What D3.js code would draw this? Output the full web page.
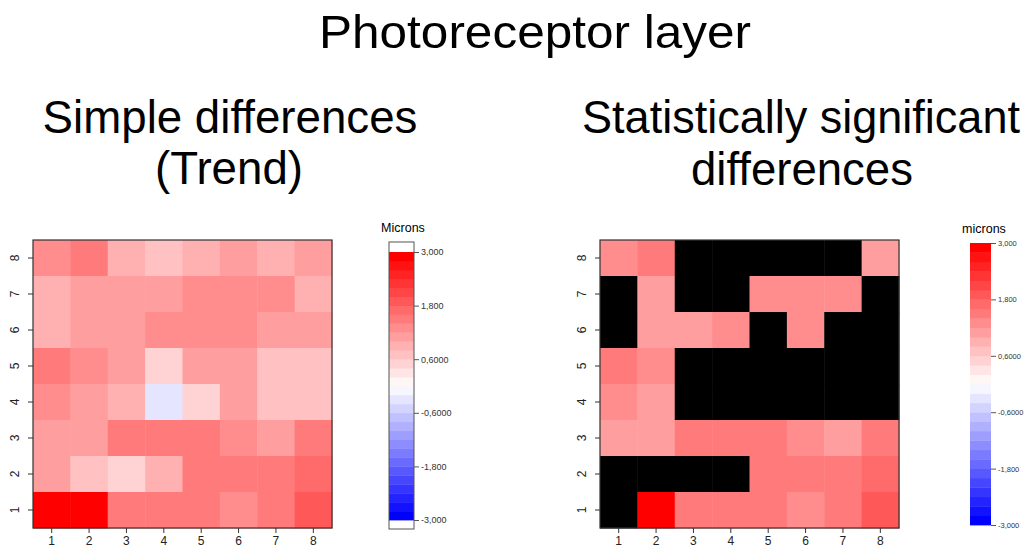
<!DOCTYPE html>
<html>
<head>
<meta charset="utf-8">
<script src="https://cdn.jsdelivr.net/npm/d3@7"></script>
<style>
    body { margin: 0; background: #fff; }
    svg { display: block; font-family: "Liberation Sans", Arial, Helvetica, sans-serif; }
</style>
</head>
<body>
<div id="plot"></div>
<script>
// data: rows listed from y = 8 (top) down to y = 1
var colLabels = [1, 2, 3, 4, 5, 6, 7, 8];
var rowLabels = [8, 7, 6, 5, 4, 3, 2, 1];

// simple differences (microns)
var trend = [
    [1.3, 1.5, 0.9, 0.7, 0.9, 1.1, 0.9, 1.1],
    [0.9, 1.1, 1.1, 1.0, 1.3, 1.3, 1.3, 0.9],
    [0.9, 1.1, 1.1, 1.3, 1.3, 1.3, 1.1, 1.1],
    [1.5, 1.3, 1.1, 0.5, 1.0, 1.1, 0.7, 0.7],
    [1.3, 1.1, 0.9, -0.3, 0.5, 1.1, 0.7, 0.7],
    [1.1, 1.1, 1.5, 1.5, 1.5, 1.3, 1.1, 1.5],
    [1.1, 0.7, 0.5, 0.9, 1.5, 1.5, 1.5, 1.7],
    [2.9, 2.9, 1.5, 1.5, 1.5, 1.3, 1.5, 1.9]
];

// 1 = statistically significant, 0 = not (drawn black)
var significant = [
    [1, 1, 0, 0, 0, 0, 0, 1],
    [0, 1, 0, 0, 1, 1, 1, 0],
    [0, 1, 1, 1, 0, 1, 0, 0],
    [1, 1, 0, 0, 0, 0, 0, 0],
    [1, 1, 0, 0, 0, 0, 0, 0],
    [1, 1, 1, 1, 1, 1, 1, 1],
    [0, 0, 0, 0, 1, 1, 1, 1],
    [0, 1, 1, 1, 1, 1, 1, 1]
];

var legendTicks = [3, 1.8, 0.6, -0.6, -1.8, -3];
var legendTickLabels = ["3,000", "1,800", "0,6000", "-0,6000", "-1,800", "-3,000"];

var nBands = 30;
var zMin = -3, zMax = 3;

// blue - white - red palette, 30 steps (like colorRampPalette)
var ramp = d3.scaleLinear().domain([0, 0.5, 1]).range(["#0000ff", "#ffffff", "#ff0000"]);
var palette = d3.range(nBands).map(i => ramp(i / (nBands - 1)));
var colorOf = function (v) {
    var k = Math.floor((v - zMin) / (zMax - zMin) * nBands);
    k = Math.max(0, Math.min(nBands - 1, k));
    return palette[k];
};

var svgWidth = 1030, svgHeight = 549;
var svg = d3.select("#plot").append("svg")
    .attr("width", svgWidth)
    .attr("height", svgHeight);

// titles (squeezed horizontally, like the original)
function title(txt, cx, y, w, size) {
    var t = svg.append("text")
        .attr("text-anchor", "middle")
        .attr("font-size", size)
        .attr("fill", "#000")
        .text(txt);
    var natural = t.node().getComputedTextLength();
    t.attr("transform", `translate(${cx}, ${y}) scale(${w / natural}, 1)`);
}
title("Photoreceptor layer", 535, 48, 432, 47);
title("Simple differences", 230, 133, 375, 47);
title("(Trend)", 229, 184, 148, 47);
title("Statistically significant", 801, 133, 438, 47);
title("differences", 802, 185, 222, 47);

// heatmap panel
function heatmap(x0, x1, y0, y1, useMask) {
    var x = d3.scaleBand().domain(colLabels).range([x0, x1]);
    var y = d3.scaleBand().domain(rowLabels).range([y0, y1]);
    var g = svg.append("g");

    var cells = [];
    trend.forEach((row, r) => row.forEach((v, c) => {
        cells.push({ row: rowLabels[r], col: colLabels[c], v: v, sig: significant[r][c] });
    }));

    g.selectAll("rect.cell")
        .data(cells)
        .enter()
        .append("rect")
        .attr("class", "cell")
        .attr("x", d => x(d.col))
        .attr("y", d => y(d.row))
        .attr("width", x.bandwidth() + 0.5)
        .attr("height", y.bandwidth() + 0.5)
        .attr("fill", d => (useMask && !d.sig) ? "#000" : colorOf(d.v));

    g.append("rect")
        .attr("x", x0).attr("y", y0)
        .attr("width", x1 - x0).attr("height", y1 - y0)
        .attr("fill", "none")
        .attr("stroke", "#333")
        .attr("stroke-width", 1.2);

    var xAxis = g.append("g")
        .attr("transform", `translate(0, ${y1})`)
        .call(d3.axisBottom(x).tickSize(5).tickPadding(3));
    xAxis.select(".domain").remove();
    xAxis.selectAll("text").attr("font-size", 12).attr("fill", "#222");
    xAxis.selectAll("line").attr("stroke", "#333");

    var yAxis = g.append("g")
        .attr("transform", `translate(${x0}, 0)`)
        .call(d3.axisLeft(y).tickSize(5).tickPadding(3));
    yAxis.select(".domain").remove();
    yAxis.selectAll("line").attr("stroke", "#333");
    yAxis.selectAll("text")
        .attr("font-size", 12)
        .attr("fill", "#222")
        .attr("text-anchor", "middle")
        .attr("dy", 0)
        .attr("x", 0)
        .attr("transform", "translate(-14, 0) rotate(-90)");
}

heatmap(33, 332, 240, 528, false);
heatmap(600, 899, 240, 528, true);

// colour legend
function legend(bx, bw, top, bottom, barTop, barBottom, name, nameX, nameY, fontSize, boxed) {
    var ly = d3.scaleLinear().domain([zMin, zMax]).range([barBottom, barTop]);
    var g = svg.append("g");
    var bands = d3.range(nBands);
    var step = (zMax - zMin) / nBands;

    if (boxed) {
        g.append("rect")
            .attr("x", bx).attr("y", top)
            .attr("width", bw).attr("height", bottom - top)
            .attr("fill", "#fff");
    }

    g.selectAll("rect.band")
        .data(bands)
        .enter()
        .append("rect")
        .attr("class", "band")
        .attr("x", bx)
        .attr("y", i => ly(zMin + (i + 1) * step))
        .attr("width", bw)
        .attr("height", i => ly(zMin + i * step) - ly(zMin + (i + 1) * step) + 0.4)
        .attr("fill", i => palette[i]);

    if (boxed) {
        g.append("rect")
            .attr("x", bx).attr("y", top)
            .attr("width", bw).attr("height", bottom - top)
            .attr("fill", "none")
            .attr("stroke", "#555")
            .attr("stroke-width", 1);
    }

    var axis = g.append("g")
        .attr("transform", `translate(${bx + bw}, 0)`)
        .call(d3.axisRight(ly)
            .tickValues(legendTicks)
            .tickFormat((d, i) => legendTickLabels[i])
            .tickSize(5)
            .tickPadding(2));
    axis.select(".domain").remove();
    axis.selectAll("line").attr("stroke", "#555");
    axis.selectAll("text").attr("font-size", fontSize).attr("fill", "#333");

    svg.append("text")
        .attr("x", nameX).attr("y", nameY)
        .attr("text-anchor", "middle")
        .attr("font-size", 12.5)
        .attr("fill", "#000")
        .text(name);
}

legend(389, 25, 242, 529, 252, 520, "Microns", 403, 232, 9, true);
legend(970, 21, 243, 525, 243, 525, "microns", 984, 233, 7.5, false);
</script>
</body>
</html>
